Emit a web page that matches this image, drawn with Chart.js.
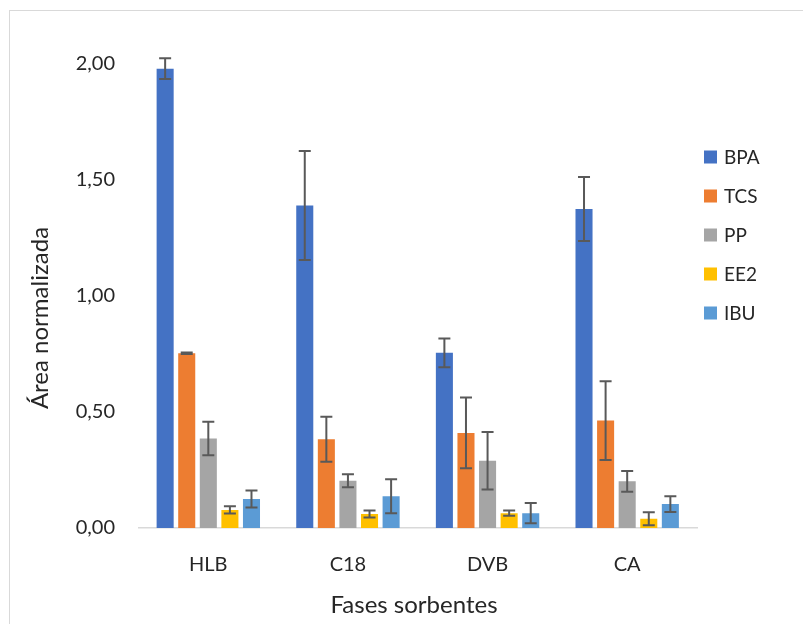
<!DOCTYPE html>
<html>
<head>
<meta charset="utf-8">
<script src="https://cdn.jsdelivr.net/npm/chart.js@4.4.1/dist/chart.umd.min.js"></script>
<style>
  html, body { margin: 0; padding: 0; background: #ffffff; }
  #wrap { position: relative; width: 803px; height: 624px; }
</style>
</head>
<body>
<div id="wrap"><canvas id="c" width="803" height="624"></canvas></div>
<script>
const categories = ["HLB", "C18", "DVB", "CA"];
const seriesNames = ["BPA", "TCS", "PP", "EE2", "IBU"];
const seriesColors = ["#4472C4", "#ED7D31", "#A5A5A5", "#FFC000", "#5B9BD5"];

const bpa = [1.98, 1.39, 0.755, 1.375];
const tcs = [0.753, 0.383, 0.41, 0.463];
const pp  = [0.386, 0.204, 0.29, 0.201];
const ee2 = [0.078, 0.060, 0.064, 0.040];
const ibu = [0.125, 0.137, 0.064, 0.103];

const bpaErr = [0.045, 0.235, 0.062, 0.138];
const tcsErr = [0.003, 0.097, 0.152, 0.170];
const ppErr  = [0.072, 0.028, 0.124, 0.045];
const ee2Err = [0.016, 0.015, 0.011, 0.028];
const ibuErr = [0.037, 0.073, 0.044, 0.034];

const yTickLabels = ["0,00", "0,50", "1,00", "1,50", "2,00"];
const yTitle = "Área normalizada";
const xTitle = "Fases sorbentes";

const seriesValues = [bpa, tcs, pp, ee2, ibu];
const seriesErrors = [bpaErr, tcsErr, ppErr, ee2Err, ibuErr];

const FONT = "Lato, 'Open Sans', sans-serif";

const decorPlugin = {
  id: 'decor',
  beforeDraw(chart) {
    const ctx = chart.ctx;
    ctx.save();
    ctx.fillStyle = '#ffffff';
    ctx.fillRect(0, 0, chart.width, chart.height);
    ctx.strokeStyle = '#d9d9d9';
    ctx.lineWidth = 1;
    ctx.strokeRect(9.5, 10.5, 830, 640);
    ctx.restore();
  },
  afterDatasetsDraw(chart) {
    const ctx = chart.ctx;
    const ys = chart.scales.y;
    ctx.save();
    ctx.strokeStyle = '#595959';
    ctx.lineWidth = 2;
    chart.data.datasets.forEach((ds, di) => {
      const meta = chart.getDatasetMeta(di);
      meta.data.forEach((bar, i) => {
        const v = ds.data[i];
        const e = seriesErrors[di][i];
        const x = bar.x;
        const yt = ys.getPixelForValue(v + e);
        const yb = ys.getPixelForValue(Math.max(0, v - e));
        ctx.beginPath();
        ctx.moveTo(x, yt); ctx.lineTo(x, yb);
        ctx.moveTo(x - 6, yt); ctx.lineTo(x + 6, yt);
        ctx.moveTo(x - 6, yb); ctx.lineTo(x + 6, yb);
        ctx.stroke();
      });
    });
    ctx.restore();
  },
  afterDraw(chart) {
    const ctx = chart.ctx;
    ctx.save();
    ctx.fillStyle = '#262626';
    ctx.textAlign = 'center';
    ctx.textBaseline = 'middle';
    ctx.font = "24px " + FONT;
    ctx.fillText(xTitle, 414, 605);
    ctx.translate(40, 318);
    ctx.rotate(-Math.PI / 2);
    ctx.fillText(yTitle, 0, 0);
    ctx.restore();

    // legend
    ctx.save();
    ctx.font = "19px " + FONT;
    ctx.textAlign = 'left';
    ctx.textBaseline = 'middle';
    chart.data.datasets.forEach((ds, i) => {
      const cy = 157 + i * 39;
      ctx.fillStyle = ds.backgroundColor;
      ctx.fillRect(704, cy - 6.5, 13, 13);
      ctx.fillStyle = '#262626';
      ctx.fillText(ds.label, 724, cy + 1);
    });
    ctx.restore();
  }
};

const datasets = seriesNames.map((name, i) => ({
  label: name,
  data: seriesValues[i],
  backgroundColor: seriesColors[i],
  borderWidth: 0,
  categoryPercentage: 0.773,
  barPercentage: 0.79
}));

new Chart(document.getElementById('c'), {
  type: 'bar',
  data: { labels: categories, datasets: datasets },
  options: {
    responsive: false,
    animation: false,
    events: [],
    layout: { padding: { left: 0, top: 64, right: 106, bottom: 0 } },
    plugins: { legend: { display: false }, tooltip: { enabled: false } },
    scales: {
      x: {
        offset: true,
        grid: { display: false, drawTicks: false },
        border: { display: true, color: '#d9d9d9', width: 1.5 },
        ticks: { color: '#262626', font: { family: FONT, size: 20 }, padding: 25, maxRotation: 0 },
        afterFit(scale) { scale.height = 96; }
      },
      y: {
        min: 0,
        max: 2,
        grid: { display: false, drawTicks: false },
        border: { display: false },
        ticks: {
          stepSize: 0.5,
          color: '#262626',
          font: { family: FONT, size: 20 },
          padding: 23.5,
          callback: (v, idx) => yTickLabels[idx]
        },
        afterFit(scale) { scale.width = 138.5; }
      }
    }
  },
  plugins: [decorPlugin]
});
</script>
</body>
</html>
